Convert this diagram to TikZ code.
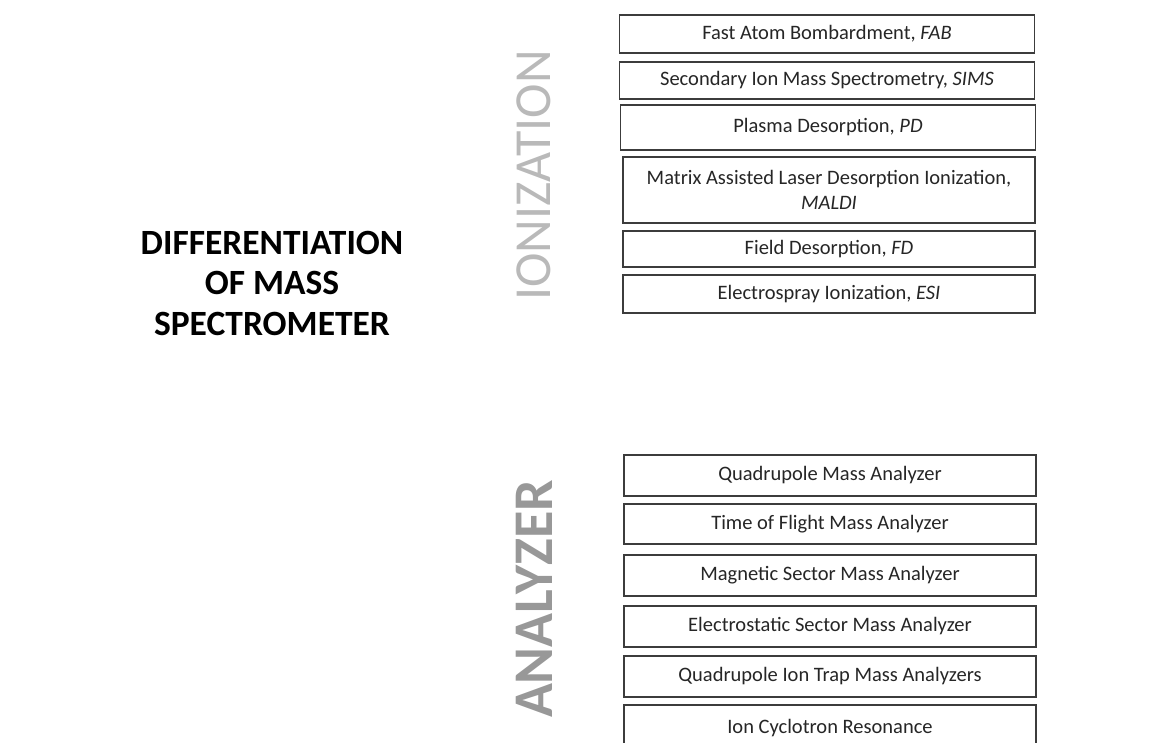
\documentclass[tikz,border=0pt]{standalone}
\usepackage{fontspec}
\setmainfont{Carlito}
\definecolor{boxline}{RGB}{60,60,60}
\definecolor{ionlabel}{RGB}{185,185,185}
\definecolor{analabel}{RGB}{152,152,152}
\tikzset{
	method/.style={draw=boxline, line width=1.6pt, fill=white, inner sep=0, align=center, font=\fontsize{20.5}{25}\selectfont, text=black!85},
	ionbox/.style={method, minimum width=415pt},
	anabox/.style={method, minimum width=412pt},
	sidelabel/.style={rotate=90, inner sep=0},
	heading/.style={align=center, inner sep=0, font=\fontsize{35.5}{40.5}\selectfont\bfseries}
}

\begin{document}
\begin{tikzpicture}[x=1pt,y=-1pt]
				\useasboundingbox (0,0) rectangle (1165,742);
				
				%%%% title
				\node[heading] (title) at (272,283) {DIFFERENTIATION\\OF MASS\\SPECTROMETER};
				
				%%%% side labels
				\node[sidelabel,text=ionlabel,font=\fontsize{52}{52}\selectfont] (ion) at (534,175.5) {IONIZATION};
				\node[sidelabel,text=analabel,font=\fontsize{56}{56}\selectfont\bfseries] (ana) at (534,599) {ANALYZER};
				
				%%%% ionization methods
				\node[ionbox,minimum height=38pt] (fab) at (827,34) {Fast Atom Bombardment, \textit{FAB}};
				\node[ionbox,minimum height=37pt] (sims) at (827,80.5) {Secondary Ion Mass Spectrometry, \textit{SIMS}};
				\node[ionbox,minimum height=45pt] (pd) at (828,127.5) {Plasma Desorption, \textit{PD}};
				\node[ionbox,minimum height=66pt,minimum width=412pt] (maldi) at (829,190) {Matrix Assisted Laser Desorption Ionization,\\\textit{MALDI}};
				\node[ionbox,minimum height=36pt,minimum width=412pt] (fd) at (829,249) {Field Desorption, \textit{FD}};
				\node[ionbox,minimum height=38pt,minimum width=412pt] (esi) at (829,294) {Electrospray Ionization, \textit{ESI}};
				
				%%%% analyzers
				\node[anabox,minimum height=41pt] (quad) at (830,475.5) {Quadrupole Mass Analyzer};
				\node[anabox,minimum height=40pt] (tof) at (830,524) {Time of Flight Mass Analyzer};
				\node[anabox,minimum height=41pt] (magsec) at (830,575.5) {Magnetic Sector Mass Analyzer};
				\node[anabox,minimum height=41pt] (elsec) at (830,626.5) {Electrostatic Sector Mass Analyzer};
				\node[anabox,minimum height=41pt] (qit) at (830,676.5) {Quadrupole Ion Trap Mass Analyzers};
				\node[anabox,minimum height=46pt] (icr) at (830,728) {Ion Cyclotron Resonance};
				
\end{tikzpicture}
\end{document}
